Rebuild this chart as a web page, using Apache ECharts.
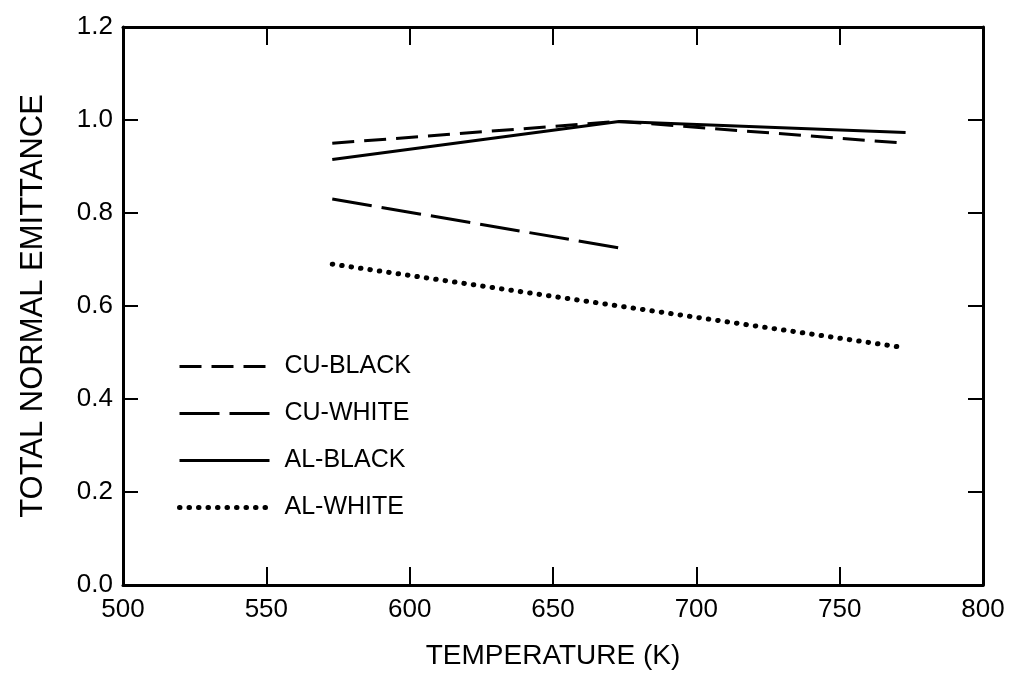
<!DOCTYPE html>
<html>
<head>
<meta charset="utf-8">
<script src="https://cdn.jsdelivr.net/npm/echarts@6/dist/echarts.min.js"></script>
<style>
  html, body { margin: 0; padding: 0; background: #fff; }
  #chart { width: 1014px; height: 684px; }
</style>
</head>
<body>
<div id="chart"></div>
<script>
// temperatures (K)
const temps = [573, 673, 773];
const tempsCuWhite = [573, 673];

// total normal emittance values
const cuBlack = [0.95, 0.997, 0.95];
const cuWhite = [0.83, 0.725];
const alBlack = [0.915, 0.997, 0.973];
const alWhite = [0.69, 0.60, 0.51];

const seriesNames = ['CU-BLACK', 'CU-WHITE', 'AL-BLACK', 'AL-WHITE'];

const font = 'Liberation Sans, Arial, sans-serif';
const chart = echarts.init(document.getElementById('chart'));

const pairs = (xs, ys) => xs.map((x, i) => [x, ys[i]]);

// 선 스타일 (시리즈/범례 공용)
const styles = {
    'CU-BLACK': { type: [22, 10], width: 3, cap: 'butt' },
    'CU-WHITE': { type: [40, 10], width: 3, cap: 'butt' },
    'AL-BLACK': { type: 'solid', width: 3, cap: 'butt' },
    'AL-WHITE': { type: [0.5, 9], width: 5, cap: 'round' },
};

const axisCommon = {
    type: 'value',
    axisLine: { show: true, onZero: false, lineStyle: { color: '#000', width: 3 } },
    splitLine: { show: false },
};

const lineSeries = (name, data) => ({
    name,
    type: 'line',
    data,
    showSymbol: false,
    symbol: 'none',
    lineStyle: { color: '#000', ...styles[name] },
    itemStyle: { color: '#000' },
    animation: false,
});

chart.setOption({
    backgroundColor: '#fff',
    animation: false,
    grid: { left: 123, right: 31, top: 27, bottom: 99 },
    legend: {
        data: seriesNames.map(n => ({ name: n, lineStyle: { color: '#000', ...styles[n] } })),
        orient: 'vertical',
        left: 172,
        top: 349,
        itemWidth: 90,
        itemHeight: 14,
        itemGap: 22,
        itemStyle: { opacity: 0 },
        textStyle: { fontFamily: font, fontSize: 25, color: '#000', padding: [0, 0, 0, 10] },
        inactiveColor: '#000',
        selectedMode: false,
    },
    xAxis: [
        {
            ...axisCommon,
            position: 'bottom',
            min: 500, max: 800, interval: 50,
            axisTick: { show: true, inside: true, length: 18, lineStyle: { color: '#000', width: 2 } },
            axisLabel: { color: '#000', fontFamily: font, fontSize: 26, margin: 12 },
            name: 'TEMPERATURE (K)',
            nameLocation: 'middle',
            nameGap: 57,
            nameTextStyle: { color: '#000', fontFamily: font, fontSize: 28 },
        },
        {
            ...axisCommon,
            position: 'top',
            min: 500, max: 800, interval: 50,
            axisTick: { show: true, inside: true, length: 18, lineStyle: { color: '#000', width: 2 } },
            axisLabel: { show: false },
        },
    ],
    yAxis: [
        {
            ...axisCommon,
            position: 'left',
            min: 0, max: 1.2, interval: 0.2,
            axisTick: { show: true, inside: true, length: 15, lineStyle: { color: '#000', width: 2 } },
            axisLabel: { color: '#000', fontFamily: font, fontSize: 26, margin: 10, formatter: v => v.toFixed(1) },
            name: 'TOTAL NORMAL EMITTANCE',
            nameLocation: 'middle',
            nameGap: 74,
            nameRotate: 90,
            nameTextStyle: { color: '#000', fontFamily: font, fontSize: 31 },
        },
        {
            ...axisCommon,
            position: 'right',
            min: 0, max: 1.2, interval: 0.2,
            axisTick: { show: true, inside: true, length: 15, lineStyle: { color: '#000', width: 2 } },
            axisLabel: { show: false },
        },
    ],
    series: [
        lineSeries('CU-BLACK', pairs(temps, cuBlack)),
        lineSeries('CU-WHITE', pairs(tempsCuWhite, cuWhite)),
        lineSeries('AL-BLACK', pairs(temps, alBlack)),
        lineSeries('AL-WHITE', pairs(temps, alWhite)),
    ],
});
</script>
</body>
</html>
